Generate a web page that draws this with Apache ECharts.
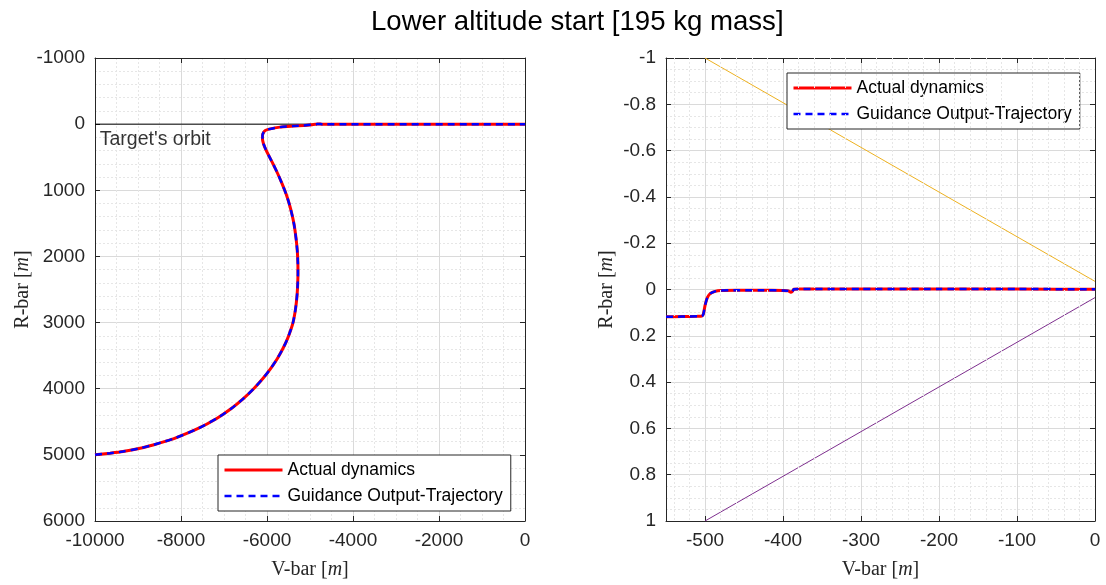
<!DOCTYPE html>
<html><head><meta charset="utf-8">
<script src="https://cdn.jsdelivr.net/npm/echarts@6/dist/echarts.min.js"></script>
<style>html,body{margin:0;padding:0;background:#fff}#c{width:1106px;height:585px}</style>
</head><body><div id="c"></div>
<script>
// ---------- data ----------
const titleText = 'Lower altitude start [195 kg mass]';
const seriesNames = ['Actual dynamics', 'Guidance Output-Trajectory'];
const orbitLabel = "Target's orbit";

// Left plot: far-range approach (V-bar, R-bar in m)
const leftVbar = [-10000, -9650, -9350, -8950, -8650, -8390, -8150, -7600, -7170, -6830, -6550, -6310, -6100, -5920, -5765, -5635, -5527, -5442, -5395, -5350, -5318, -5297, -5285, -5280, -5282, -5292, -5312, -5340, -5375, -5425, -5485, -5560, -5650, -5750, -5860, -5955, -6030, -6080, -6105, -6105, -6080, -6040, -5950, -5700, -5400, -5150, -4950, -4850, -4800, -4720, 0];
const leftRbar = [5000, 4975, 4950, 4900, 4850, 4800, 4750, 4600, 4450, 4300, 4150, 4000, 3850, 3700, 3550, 3400, 3250, 3100, 3000, 2850, 2700, 2550, 2400, 2250, 2100, 1950, 1800, 1650, 1500, 1350, 1200, 1050, 900, 750, 600, 480, 380, 300, 230, 170, 125, 95, 75, 45, 30, 20, 8, 0, -4, 0, 0];

// Right plot: close-range approach
const rightVbar = [-550, -530, -510, -504, -502, -500, -497, -493, -487, -480, -460, -430, -400, -393, -390, -388, -386, -380, -300, -200, -100, 0];
const rightRbar = [0.118, 0.117, 0.116, 0.115, 0.105, 0.07, 0.035, 0.017, 0.008, 0.004, 0.003, 0.003, 0.004, 0.006, 0.012, 0.008, -0.001, -0.002, -0.002, -0.002, -0.002, -0.001];

// Target orbit line and label position (left plot)
const orbitVbar = [-10000, 0];
const orbitRbar = [0, 0];
const orbitLabelPos = [-9890, 230];

// Approach cone (right plot)
const coneVbar = [-500, 0];
const coneUpperRbar = [-1, -0.035];
const coneLowerRbar = [1, 0.035];

// Axis ranges
const leftX = { min: -10000, max: 0, interval: 2000, minorSplit: 4 };
const leftY = { min: -1000, max: 6000, interval: 1000, minorSplit: 5 };
const rightX = { min: -550, max: 0, splitNumber: 5, minorStep: 20 };
const rightY = { min: -1, max: 1, interval: 0.2, minorSplit: 4 };

// ---------- helpers ----------
const zip = (xs, ys) => xs.map((x, i) => [x, ys[i]]);
const SANS = 'Liberation Sans, Arial, sans-serif';
const SERIF = 'Liberation Serif, Times New Roman, serif';
const AX = '#262626';
const MAJOR = '#dadada';
const MINOR = '#e6e6e6';
const plain = v => String(+v.toFixed(6));

function nameStyle() {
  return { fontFamily: SERIF, fontSize: 20, color: AX,
    rich: { i: { fontFamily: SERIF, fontSize: 20, fontStyle: 'italic', color: AX } } };
}
function baseAxis(extra) {
  return Object.assign({
    type: 'value',
    axisLine: { show: true, onZero: false, lineStyle: { color: AX, width: 1 } },
    axisTick: { show: true, inside: true, length: 5, lineStyle: { color: AX, width: 1 } },
    axisLabel: { show: true, fontFamily: SANS, fontSize: 19, color: AX, margin: 10, showMinLabel: true, showMaxLabel: true, formatter: plain },
    splitLine: { show: true, lineStyle: { color: MAJOR, width: 1 } },
    minorTick: { show: false },
    minorSplitLine: { show: true, lineStyle: { color: MINOR, width: 1, type: [2, 2] } }
  }, extra);
}
function borderAxis(extra) {
  return Object.assign({
    type: 'value',
    axisLine: { show: true, onZero: false, lineStyle: { color: AX, width: 1 } },
    axisTick: { show: true, inside: true, length: 5, lineStyle: { color: AX, width: 1 } },
    axisLabel: { show: false },
    splitLine: { show: false },
    minorSplitLine: { show: false }
  }, extra);
}
function legendCfg(left, top) {
  return { data: seriesNames, orient: 'vertical', left: left, top: top,
    itemWidth: 58, itemHeight: 16, itemGap: 8, padding: [6, 8, 6, 5],
    borderColor: AX, borderWidth: 1, backgroundColor: '#fff', selectedMode: false,
    itemStyle: { opacity: 0, color: 'rgba(0,0,0,0)', borderWidth: 0 },
    lineStyle: { width: 'inherit' },
    textStyle: { fontFamily: SANS, fontSize: 17.5, color: '#000' } };
}

const rightMinorX = [];
for (let v = rightX.min + 10; v < rightX.max; v += rightX.minorStep) {
  if (v % 100 !== 0) rightMinorX.push({ xAxis: v });
}

const chart = echarts.init(document.getElementById('c'), null, { renderer: 'canvas' });
const option = {
  animation: false,
  backgroundColor: '#ffffff',
  title: { text: titleText, left: 366, top: 3,
    textStyle: { fontFamily: SANS, fontSize: 27.6, fontWeight: 'normal', color: '#000' } },
  grid: [
    { left: 95, top: 58, width: 430, height: 465 },
    { left: 666, top: 58, width: 429, height: 465 }
  ],
  legend: [legendCfg(218, 455), legendCfg(787, 73)],
  xAxis: [
    baseAxis({ gridIndex: 0, position: 'bottom', min: leftX.min, max: leftX.max, interval: leftX.interval,
      minorTick: { show: false, splitNumber: leftX.minorSplit },
      name: 'V-bar [{i|m}]', nameLocation: 'middle', nameGap: 39, nameTextStyle: nameStyle() }),
    borderAxis({ gridIndex: 0, position: 'top', min: leftX.min, max: leftX.max, interval: leftX.interval }),
    baseAxis({ gridIndex: 1, position: 'bottom', min: rightX.min, max: rightX.max, splitNumber: rightX.splitNumber,
      axisLabel: { show: true, fontFamily: SANS, fontSize: 19, color: AX, margin: 10,
        formatter: v => (v === rightX.min ? '' : plain(v)) },
      minorSplitLine: { show: false },
      name: 'V-bar [{i|m}]', nameLocation: 'middle', nameGap: 39, nameTextStyle: nameStyle() }),
    borderAxis({ gridIndex: 1, position: 'top', min: rightX.min, max: rightX.max, splitNumber: rightX.splitNumber })
  ],
  yAxis: [
    baseAxis({ gridIndex: 0, position: 'left', inverse: true, min: leftY.min, max: leftY.max, interval: leftY.interval,
      minorTick: { show: false, splitNumber: leftY.minorSplit },
      name: 'R-bar [{i|m}]', nameLocation: 'middle', nameGap: 54, nameTextStyle: nameStyle() }),
    borderAxis({ gridIndex: 0, position: 'right', inverse: true, min: leftY.min, max: leftY.max, interval: leftY.interval }),
    baseAxis({ gridIndex: 1, position: 'left', inverse: true, min: rightY.min, max: rightY.max, interval: rightY.interval,
      minorTick: { show: false, splitNumber: rightY.minorSplit },
      name: 'R-bar [{i|m}]', nameLocation: 'middle', nameGap: 49, nameTextStyle: nameStyle() }),
    borderAxis({ gridIndex: 1, position: 'right', inverse: true, min: rightY.min, max: rightY.max, interval: rightY.interval })
  ],
  series: [
    // right-plot minor vertical grid (20 m spacing)
    { type: 'line', xAxisIndex: 2, yAxisIndex: 2, z: 0, silent: true, symbol: 'none',
      data: [[rightX.min, 0]], lineStyle: { opacity: 0 },
      markLine: { silent: true, symbol: ['none', 'none'], label: { show: false },
        lineStyle: { color: MINOR, width: 1, type: [2, 2] }, emphasis: { disabled: true },
        data: rightMinorX } },
    // target orbit
    { type: 'line', xAxisIndex: 0, yAxisIndex: 0, z: 1, silent: true, symbol: 'none',
      data: zip(orbitVbar, orbitRbar), lineStyle: { color: '#000', width: 1 } },
    { type: 'scatter', xAxisIndex: 0, yAxisIndex: 0, silent: true, symbolSize: 0,
      data: [orbitLabelPos],
      label: { show: true, position: 'right', distance: 0, formatter: orbitLabel,
        fontFamily: SANS, fontSize: 19.5, color: '#000' } },
    // cone lines
    { type: 'line', xAxisIndex: 2, yAxisIndex: 2, z: 1, silent: true, symbol: 'none',
      data: zip(coneVbar, coneUpperRbar), lineStyle: { color: '#EDB120', width: 1 } },
    { type: 'line', xAxisIndex: 2, yAxisIndex: 2, z: 1, silent: true, symbol: 'none',
      data: zip(coneVbar, coneLowerRbar), lineStyle: { color: '#7E2F8E', width: 1 } },
    // left trajectories
    { name: seriesNames[0], type: 'line', xAxisIndex: 0, yAxisIndex: 0, z: 3, symbol: 'none', smooth: 0.2,
      data: zip(leftVbar, leftRbar), lineStyle: { color: '#ff0000', width: 3 }, itemStyle: { color: '#ff0000' } },
    { name: seriesNames[1], type: 'line', xAxisIndex: 0, yAxisIndex: 0, z: 4, symbol: 'none', smooth: 0.2,
      data: zip(leftVbar, leftRbar), lineStyle: { color: '#0000ff', width: 2.5, type: [7, 5] }, itemStyle: { color: '#0000ff' } },
    // right trajectories
    { name: seriesNames[0], type: 'line', xAxisIndex: 2, yAxisIndex: 2, z: 3, symbol: 'none', smooth: 0.2,
      data: zip(rightVbar, rightRbar), lineStyle: { color: '#ff0000', width: 3 }, itemStyle: { color: '#ff0000' } },
    { name: seriesNames[1], type: 'line', xAxisIndex: 2, yAxisIndex: 2, z: 4, symbol: 'none', smooth: 0.2,
      data: zip(rightVbar, rightRbar), lineStyle: { color: '#0000ff', width: 2.5, type: [7, 5] }, itemStyle: { color: '#0000ff' } }
  ]
};
chart.setOption(option);
</script>
</body></html>
